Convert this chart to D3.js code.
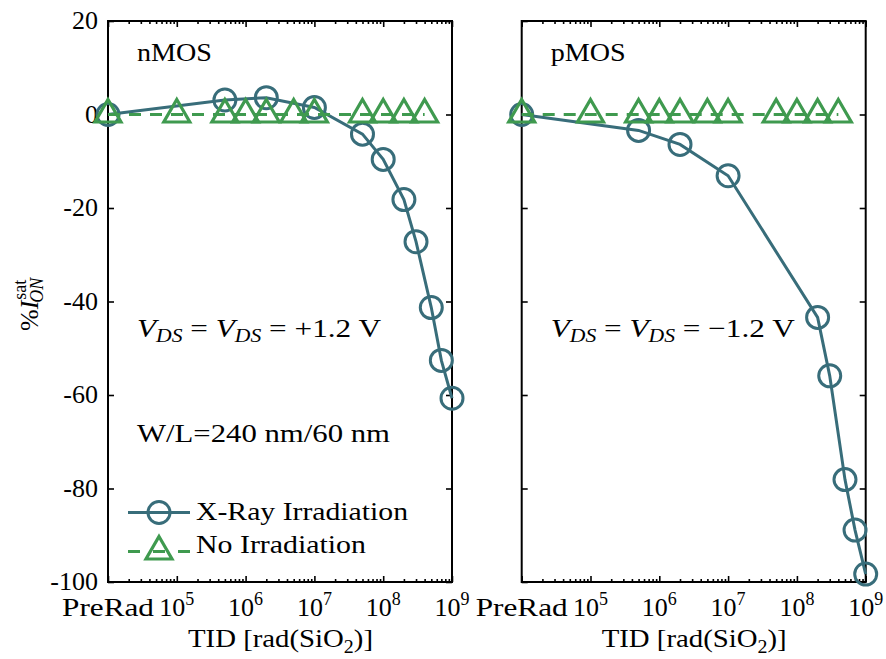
<!DOCTYPE html>
<html>
<head>
<meta charset="utf-8">
<script src="https://cdn.jsdelivr.net/npm/d3@7/dist/d3.min.js"></script>
<style>
  html, body { margin: 0; padding: 0; background: #fff; }
  svg { display: block; }
</style>
</head>
<body>
<svg id="chart" width="886" height="659"></svg>
<script>
// Total ionizing dose levels; PreRad is placed at the 1e4 position of the log axis
const preRadPos = 1e4;
const xTickValues = [1e4, 1e5, 1e6, 1e7, 1e8, 1e9];
const xTickLabels = ["PreRad", "10|5", "10|6", "10|7", "10|8", "10|9"];
const yTickValues = [20, 0, -20, -40, -60, -80, -100];
const yTickLabels = ["20", "0", "-20", "-40", "-60", "-80", "-100"];

// X-ray irradiated devices
const nmosXrayDose = [preRadPos, 5e5, 2e6, 1e7, 5e7, 1e8, 2e8, 3e8, 5e8, 7e8, 1e9];
const nmosXray     = [0, 3.1, 3.6, 1.5, -4.2, -9.6, -18.2, -27.2, -41.3, -52.6, -60.7];
const pmosXrayDose = [preRadPos, 5e5, 2e6, 1e7, 2e8, 3e8, 5e8, 7e8, 1e9];
const pmosXray     = [0, -3.4, -6.4, -13.1, -43.4, -55.9, -78.1, -88.9, -98.3];

// Reference devices kept out of the beam
const noIrrDose  = [preRadPos, 1e5, 5e5, 1e6, 2e6, 5e6, 1e7, 5e7, 1e8, 2e8, 4e8];
const nmosNoIrr  = [0, 0, 0, 0, 0, 0, 0, 0, 0, 0, 0];
const pmosNoIrr  = [0, 0, 0, 0, 0, 0, 0, 0, 0, 0, 0];

const seriesNames = ["X-Ray Irradiation", "No Irradiation"];
const colorXray = "#386d7a";
const colorNoIrr = "#3f9a4f";
const FONT = "Liberation Serif";

const svg = d3.select("#chart");
const plotTop = 21, plotBottom = 582, panelW = 344;
const y = d3.scaleLinear().domain([-100, 20]).range([plotBottom, plotTop]);

const trianglePath = "M0,-15L13,7.5L-13,7.5Z";

function fit(sel, w) {
  sel.attr("textLength", w).attr("lengthAdjust", "spacingAndGlyphs");
  return sel;
}

// minor tick positions 2..9 x 10^k
const minorTicks = [];
for (let k = 4; k < 9; k++) for (let m = 2; m <= 9; m++) minorTicks.push(m * Math.pow(10, k));

const panels = [
  { name: "nMOS", x0: 108, xray: [nmosXrayDose, nmosXray], noIrr: [noIrrDose, nmosNoIrr],
    vds: "+1.2 V", showY: true, extra: true },
  { name: "pMOS", x0: 521.7, xray: [pmosXrayDose, pmosXray], noIrr: [noIrrDose, pmosNoIrr],
    vds: "\u22121.2 V", showY: false, extra: false }
];

panels.forEach(p => {
  const x = d3.scaleLog().domain([1e4, 1e9]).range([p.x0, p.x0 + panelW]);
  const g = svg.append("g");

  // axes with inward ticks on all four sides
  const axes = g.append("g").attr("class", "axes");
  const styleAxis = a => {
    a.selectAll("text").remove();
    a.select(".domain").remove();
    a.selectAll("line").attr("stroke", "#000").attr("stroke-width", 1.6);
  };
  axes.append("g").attr("transform", `translate(0,${plotBottom})`)
    .call(d3.axisBottom(x).tickValues(xTickValues).tickSize(-6).tickFormat("")).call(styleAxis);
  axes.append("g").attr("transform", `translate(0,${plotBottom})`)
    .call(d3.axisBottom(x).tickValues(minorTicks).tickSize(-3).tickFormat("")).call(styleAxis);
  axes.append("g").attr("transform", `translate(0,${plotTop})`)
    .call(d3.axisTop(x).tickValues(xTickValues).tickSize(-6).tickFormat("")).call(styleAxis);
  axes.append("g").attr("transform", `translate(0,${plotTop})`)
    .call(d3.axisTop(x).tickValues(minorTicks).tickSize(-3).tickFormat("")).call(styleAxis);
  axes.append("g").attr("transform", `translate(${p.x0},0)`)
    .call(d3.axisLeft(y).tickValues(yTickValues).tickSize(-6).tickFormat("")).call(styleAxis);
  axes.append("g").attr("transform", `translate(${p.x0 + panelW},0)`)
    .call(d3.axisRight(y).tickValues(yTickValues).tickSize(-6).tickFormat("")).call(styleAxis);
  g.append("rect").attr("x", p.x0).attr("y", plotTop).attr("width", panelW).attr("height", plotBottom - plotTop)
    .attr("fill", "none").attr("stroke", "#000").attr("stroke-width", 2);

  // x tick labels
  xTickValues.forEach((v, i) => {
    const parts = xTickLabels[i].split("|");
    const t = g.append("text").attr("x", x(v)).attr("y", 616)
      .attr("text-anchor", "middle").attr("font-size", 26);
    if (parts.length === 1) {
      t.text(parts[0]);
      fit(t, 92);
    } else {
      t.append("tspan").text(parts[0]);
      t.append("tspan").attr("font-size", 18).attr("dy", -11).text(parts[1]);
    }
  });

  // y tick labels (left panel only)
  if (p.showY) {
    yTickValues.forEach((v, i) => {
      g.append("text").attr("x", p.x0 - 10).attr("y", y(v) + 8)
        .attr("text-anchor", "end").attr("font-size", 26).text(yTickLabels[i]);
    });
  }

  // x axis title
  const xt = g.append("text").attr("x", p.x0 + panelW / 2 - 92).attr("y", 647).attr("font-size", 26);
  xt.append("tspan").text("TID [rad(SiO");
  xt.append("tspan").attr("font-size", 18).attr("dy", 6).text("2");
  xt.append("tspan").attr("dy", -6).text(")]");
  fit(xt, 185);

  // X-ray series: solid line with hollow circles
  const xrayPts = p.xray[0].map((d, i) => [x(d), y(p.xray[1][i])]);
  g.append("path").attr("d", d3.line()(xrayPts)).attr("fill", "none")
    .attr("stroke", colorXray).attr("stroke-width", 3);
  g.selectAll("circle.xray").data(xrayPts).join("circle").attr("class", "xray")
    .attr("cx", d => d[0]).attr("cy", d => d[1]).attr("r", 11)
    .attr("fill", "none").attr("stroke", colorXray).attr("stroke-width", 3);

  // non-irradiated series: dashed line with hollow triangles
  const noPts = p.noIrr[0].map((d, i) => [x(d), y(p.noIrr[1][i])]);
  g.append("path").attr("d", d3.line()(noPts)).attr("fill", "none")
    .attr("stroke", colorNoIrr).attr("stroke-width", 3.2).attr("stroke-dasharray", "12,9");
  g.selectAll("path.tri").data(noPts).join("path").attr("class", "tri")
    .attr("transform", d => `translate(${d[0]},${d[1]})`).attr("d", trianglePath)
    .attr("fill", "none").attr("stroke", colorNoIrr).attr("stroke-width", 3.2);

  // panel annotations
  const ax = p.x0 + 29;
  fit(g.append("text").attr("x", ax).attr("y", 61).attr("font-size", 26).text(p.name), 75);

  const vt = g.append("text").attr("x", ax).attr("y", 337).attr("font-size", 26);
  vt.append("tspan").attr("font-style", "italic").text("V");
  vt.append("tspan").attr("font-style", "italic").attr("font-size", 18).attr("dy", 5).text("DS");
  vt.append("tspan").attr("dy", -5).text(" = ");
  vt.append("tspan").attr("font-style", "italic").text("V");
  vt.append("tspan").attr("font-style", "italic").attr("font-size", 18).attr("dy", 5).text("DS");
  vt.append("tspan").attr("dy", -5).text(" = " + p.vds);
  fit(vt, 244);

  if (p.extra) {
    fit(g.append("text").attr("x", ax).attr("y", 442).attr("font-size", 26).text("W/L=240 nm/60 nm"), 253);

    // legend
    const lg = g.append("g");
    const lx0 = 128, lx1 = 190, lc = 159;
    lg.append("line").attr("x1", lx0).attr("x2", lx1).attr("y1", 512.5).attr("y2", 512.5)
      .attr("stroke", colorXray).attr("stroke-width", 3);
    lg.append("circle").attr("cx", lc).attr("cy", 512.5).attr("r", 11)
      .attr("fill", "none").attr("stroke", colorXray).attr("stroke-width", 3);
    lg.append("line").attr("x1", lx0).attr("x2", lx1).attr("y1", 551.5).attr("y2", 551.5)
      .attr("stroke", colorNoIrr).attr("stroke-width", 3.2).attr("stroke-dasharray", "12,13");
    lg.append("path").attr("transform", `translate(${lc},551.5)`).attr("d", trianglePath)
      .attr("fill", "none").attr("stroke", colorNoIrr).attr("stroke-width", 3.2);
    fit(lg.append("text").attr("x", 196).attr("y", 520).attr("font-size", 26).text(seriesNames[0]), 212);
    fit(lg.append("text").attr("x", 196).attr("y", 553).attr("font-size", 26).text(seriesNames[1]), 170);
  }
});

// y axis title: %I_ON^sat, rotated
const yl = svg.append("g").attr("transform", "translate(38,302) rotate(-90)");
const base = yl.append("text").attr("font-family", FONT).attr("font-size", 26).attr("x", -29);
base.append("tspan").text("%");
base.append("tspan").attr("font-style", "italic").text("I");
const bw = base.node().getComputedTextLength();
yl.append("text").attr("font-size", 18).attr("x", -29 + bw + 1).attr("y", -12).text("sat");
yl.append("text").attr("font-size", 18).attr("font-style", "italic").attr("x", -29 + bw - 2).attr("y", 5).text("ON");

// serif face on every label
svg.selectAll("text").attr("font-family", FONT).attr("fill", "#000");
</script>
</body>
</html>
